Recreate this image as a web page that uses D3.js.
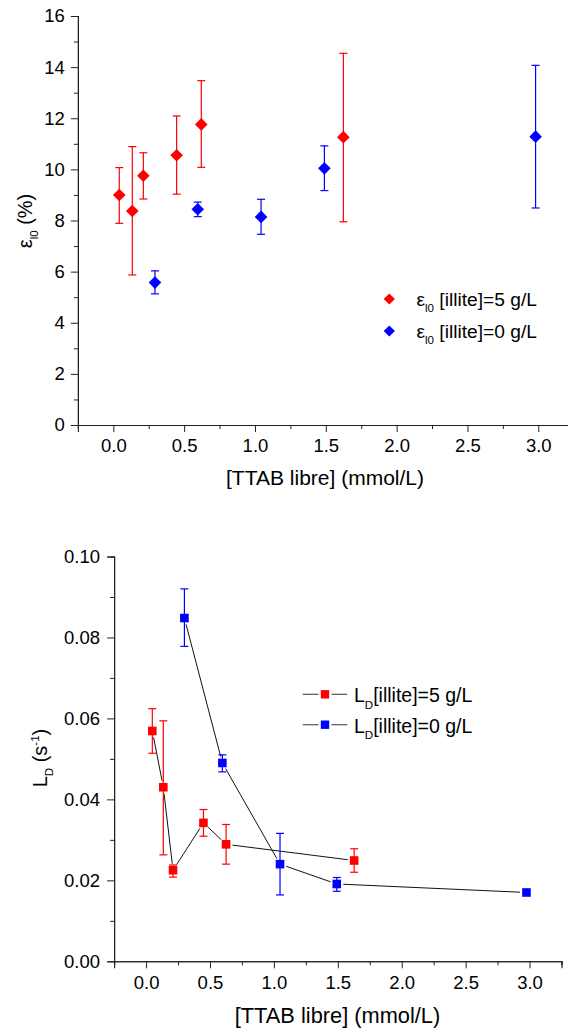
<!DOCTYPE html>
<html>
<head>
<meta charset="utf-8">
<script src="https://cdn.jsdelivr.net/npm/d3@7"></script>
<style>
  html, body { margin: 0; padding: 0; background: #fff; }
  svg { display: block; }
  text { font-family: "Liberation Sans", Arial, sans-serif; fill: #000; }
</style>
</head>
<body>
<svg id="chart" width="568" height="1032"></svg>
<script>
// ---------- Data (top panel: epsilon_l0, %) ----------
const topX5  = [0.042, 0.134, 0.212, 0.447, 0.621, 1.624];
const topY5  = [9.00, 8.37, 9.75, 10.55, 11.76, 11.26];
const topHi5 = [10.07, 10.89, 10.65, 12.09, 13.47, 14.54];
const topLo5 = [7.89, 5.87, 8.84, 9.03, 10.08, 7.95];

const topX0  = [0.294, 0.596, 1.043, 1.490, 2.981];
const topY0  = [5.57, 8.44, 8.14, 10.04, 11.28];
const topHi0 = [6.03, 8.72, 8.83, 10.92, 14.07];
const topLo0 = [5.13, 8.15, 7.46, 9.17, 8.49];

// ---------- Data (bottom panel: L_D, s^-1) ----------
const botX5  = [0.049, 0.135, 0.211, 0.449, 0.626, 1.628];
const botY5  = [0.0569, 0.0430, 0.0225, 0.0342, 0.0289, 0.0249];
const botHi5 = [0.0624, 0.0594, 0.0238, 0.0375, 0.0338, 0.0278];
const botLo5 = [0.0514, 0.0263, 0.0208, 0.0309, 0.0240, 0.0220];

const botX0  = [0.300, 0.597, 1.048, 1.492, 2.976];
const botY0  = [0.0848, 0.0490, 0.0240, 0.0191, 0.0170];
const botHi0 = [0.0920, 0.0510, 0.0316, 0.0207, 0.0170];
const botLo0 = [0.0778, 0.0468, 0.0164, 0.0173, 0.0170];

// ---------- Ticks ----------
const xMajor = [0, 0.5, 1, 1.5, 2, 2.5, 3];
const xMinor = [-0.25, 0.25, 0.75, 1.25, 1.75, 2.25, 2.75, 3.25];
const xLabels = ["0.0", "0.5", "1.0", "1.5", "2.0", "2.5", "3.0"];
const topYMajor = [0, 2, 4, 6, 8, 10, 12, 14, 16];
const topYMinor = [1, 3, 5, 7, 9, 11, 13, 15];
const botYMajor = [0, 0.02, 0.04, 0.06, 0.08, 0.10];
const botYMinor = [0.01, 0.03, 0.05, 0.07, 0.09];
const botYLabels = ["0.00", "0.02", "0.04", "0.06", "0.08", "0.10"];

const legendTop = ["[illite]=5 g/L", "[illite]=0 g/L"];
const legendBot = ["[illite]=5 g/L", "[illite]=0 g/L"];
const xTitle = "[TTAB libre] (mmol/L)";

const RED = "#ff0000", BLUE = "#0000ff";
const svg = d3.select("#chart");

function zip(xs, ys, his, los) {
  return xs.map((x, i) => ({x, y: ys[i], hi: his[i], lo: los[i]}));
}

function drawAxes(g, x, y, opts) {
  const xAxis = d3.axisBottom(x).tickValues(xMajor).tickSize(7).tickPadding(opts.xPad)
    .tickFormat((d, i) => xLabels[i]);
  const xAxisMinor = d3.axisBottom(x).tickValues(xMinor).tickSize(4).tickFormat("");
  const yAxis = d3.axisLeft(y).tickValues(opts.yMajor).tickSize(7).tickPadding(opts.yPad)
    .tickFormat(opts.yFmt);
  const yAxisMinor = d3.axisLeft(y).tickValues(opts.yMinor).tickSize(4).tickFormat("");

  g.append("g").attr("transform", `translate(0,${y.range()[0]})`).call(xAxis);
  g.append("g").attr("transform", `translate(0,${y.range()[0]})`).call(xAxisMinor);
  g.append("g").attr("transform", `translate(${x.range()[0]},0)`).call(yAxis);
  g.append("g").attr("transform", `translate(${x.range()[0]},0)`).call(yAxisMinor);

  g.selectAll(".domain").attr("stroke", "#222").attr("stroke-width", 1.1);
  g.selectAll(".tick line").attr("stroke", "#222").attr("stroke-width", 1);
  g.selectAll(".tick text").attr("font-size", 18.5)
    .attr("font-family", '"Liberation Sans", Arial, sans-serif').attr("fill", "#000");
}

function drawErrorBars(g, data, x, y, color) {
  const cap = 4;
  const eb = g.append("g").attr("stroke", color).attr("stroke-width", 1.2);
  data.filter(d => d.hi !== d.lo).forEach(d => {
    const px = x(d.x);
    eb.append("line").attr("x1", px).attr("x2", px).attr("y1", y(d.hi)).attr("y2", y(d.lo));
    eb.append("line").attr("x1", px - cap).attr("x2", px + cap).attr("y1", y(d.hi)).attr("y2", y(d.hi));
    eb.append("line").attr("x1", px - cap).attr("x2", px + cap).attr("y1", y(d.lo)).attr("y2", y(d.lo));
  });
}

const diamondPath = (s) => `M0,${-s}L${s},0L0,${s}L${-s},0Z`;

// =================== TOP PANEL ===================
{
  const g = svg.append("g");
  const x = d3.scaleLinear().domain([-0.25, 3.25]).range([77.9, 573.7]);
  const y = d3.scaleLinear().domain([0, 16]).range([425, 16]);

  drawAxes(g, x, y, {
    xPad: 7, yPad: 6, yMajor: topYMajor, yMinor: topYMinor,
    yFmt: d => String(d)
  });

  const d5 = zip(topX5, topY5, topHi5, topLo5);
  const d0 = zip(topX0, topY0, topHi0, topLo0);
  drawErrorBars(g, d0, x, y, BLUE);
  drawErrorBars(g, d5, x, y, RED);

  g.append("g").selectAll("path").data(d0).join("path")
    .attr("d", diamondPath(6.3)).attr("fill", BLUE)
    .attr("transform", d => `translate(${x(d.x)},${y(d.y)})`);
  g.append("g").selectAll("path").data(d5).join("path")
    .attr("d", diamondPath(6.3)).attr("fill", RED)
    .attr("transform", d => `translate(${x(d.x)},${y(d.y)})`);

  // Axis titles
  g.append("text").attr("x", 325).attr("y", 484.5).attr("text-anchor", "middle")
    .attr("font-size", 21).text(xTitle);

  const yt = g.append("text").attr("transform", "translate(32,221) rotate(-90)")
    .attr("text-anchor", "middle").attr("font-size", 20);
  yt.append("tspan").text("ε");
  yt.append("tspan").attr("font-size", 11.5).attr("dy", 6).text("l0");
  yt.append("tspan").attr("dy", -6).text(" (%)");

  // Legend
  const legColors = [RED, BLUE];
  const legY = [299, 331];
  legendTop.forEach((t, i) => {
    g.append("path").attr("d", diamondPath(5.6)).attr("fill", legColors[i])
      .attr("transform", `translate(389.3,${legY[i]})`);
    const tx = g.append("text").attr("x", 416.5).attr("y", legY[i] + 6.5).attr("font-size", 19.2);
    tx.append("tspan").text("ε");
    tx.append("tspan").attr("font-size", 11.5).attr("dy", 6).text("l0");
    tx.append("tspan").attr("dy", -6).text(" " + t);
  });
}

// =================== BOTTOM PANEL ===================
{
  const g = svg.append("g");
  const x = d3.scaleLinear().domain([-0.25, 3.25]).range([114.1, 561.5]);
  const y = d3.scaleLinear().domain([0, 0.10]).range([961.3, 556.5]);

  drawAxes(g, x, y, {
    xPad: 8, yPad: 7, yMajor: botYMajor, yMinor: botYMinor,
    yFmt: (d, i) => botYLabels[i]
  });

  const d5 = zip(botX5, botY5, botHi5, botLo5);
  const d0 = zip(botX0, botY0, botHi0, botLo0);

  // connecting lines with small gaps at markers
  function drawLine(data) {
    const gap = 6.5;
    const lg = g.append("g").attr("stroke", "#111").attr("stroke-width", 1);
    for (let i = 0; i < data.length - 1; i++) {
      const x1 = x(data[i].x), y1 = y(data[i].y);
      const x2 = x(data[i + 1].x), y2 = y(data[i + 1].y);
      const len = Math.hypot(x2 - x1, y2 - y1);
      const ux = (x2 - x1) / len, uy = (y2 - y1) / len;
      lg.append("line")
        .attr("x1", x1 + ux * gap).attr("y1", y1 + uy * gap)
        .attr("x2", x2 - ux * gap).attr("y2", y2 - uy * gap);
    }
  }
  drawLine(d5);
  drawLine(d0);

  drawErrorBars(g, d5, x, y, RED);
  drawErrorBars(g, d0, x, y, BLUE);

  const sq = 8.6;
  g.append("g").selectAll("rect").data(d5).join("rect")
    .attr("x", d => x(d.x) - sq / 2).attr("y", d => y(d.y) - sq / 2)
    .attr("width", sq).attr("height", sq).attr("fill", RED);
  g.append("g").selectAll("rect").data(d0).join("rect")
    .attr("x", d => x(d.x) - sq / 2).attr("y", d => y(d.y) - sq / 2)
    .attr("width", sq).attr("height", sq).attr("fill", BLUE);

  // Axis titles
  g.append("text").attr("x", 337.5).attr("y", 1022.5).attr("text-anchor", "middle")
    .attr("font-size", 21.8).text(xTitle);

  const yt = g.append("text").attr("transform", "translate(47,758) rotate(-90)")
    .attr("text-anchor", "middle").attr("font-size", 20);
  yt.append("tspan").text("L");
  yt.append("tspan").attr("font-size", 11.5).attr("dy", 6).text("D");
  yt.append("tspan").attr("dy", -6).text(" (s");
  yt.append("tspan").attr("font-size", 11.5).attr("dy", -8).text("-1");
  yt.append("tspan").attr("dy", 8).text(")");

  // Legend
  const legColors = [RED, BLUE];
  const legY = [694.3, 724.7];
  legendBot.forEach((t, i) => {
    g.append("line").attr("x1", 302.7).attr("x2", 318.5).attr("y1", legY[i]).attr("y2", legY[i])
      .attr("stroke", "#555").attr("stroke-width", 1.2);
    g.append("line").attr("x1", 331.5).attr("x2", 347.3).attr("y1", legY[i]).attr("y2", legY[i])
      .attr("stroke", "#555").attr("stroke-width", 1.2);
    g.append("rect").attr("x", 325 - 4.2).attr("y", legY[i] - 4.2).attr("width", 8.4).attr("height", 8.4)
      .attr("fill", legColors[i]);
    const tx = g.append("text").attr("x", 354).attr("y", legY[i] + 8).attr("font-size", 19.5);
    tx.append("tspan").text("L");
    tx.append("tspan").attr("font-size", 11.5).attr("dy", 6.5).text("D");
    tx.append("tspan").attr("dy", -6.5).text(t);
  });
}
</script>
</body>
</html>
